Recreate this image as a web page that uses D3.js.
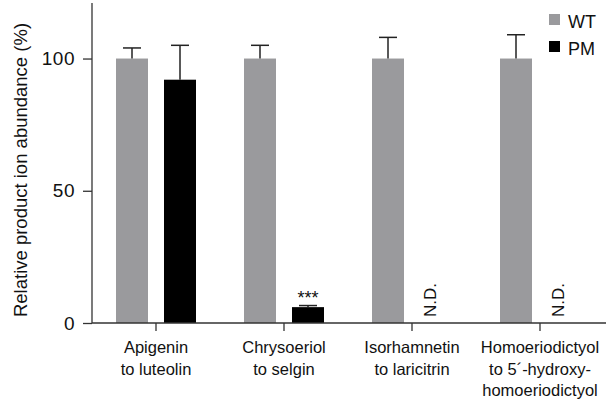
<!DOCTYPE html>
<html>
<head>
<meta charset="utf-8">
<script src="https://cdn.jsdelivr.net/npm/d3@7"></script>
<style>
  body { margin: 0; background: #fff; }
  text { font-family: "Liberation Sans", Arial, sans-serif; fill: #111; }
</style>
</head>
<body>
<div id="chart"></div>
<script>
const categories = [
    ['Apigenin', 'to luteolin'],
    ['Chrysoeriol', 'to selgin'],
    ['Isorhamnetin', 'to laricitrin'],
    ['Homoeriodictyol', 'to 5\u00b4-hydroxy-', 'homoeriodictyol']
];
const groups = ['WT', 'PM'];
const wtValues = [100, 100, 100, 100];
const wtErrors = [4, 5, 8, 9];
const pmValues = [92, 6, null, null];
const pmErrors = [13, 0.6, null, null];
const pmNotes = ['', '***', 'N.D.', 'N.D.'];
const yTicks = [0, 50, 100];

const colors = { WT: '#9a9a9d', PM: '#000000' };

const width = 613, height = 400;
const margin = { top: 3, right: 9, bottom: 77, left: 92 };
const innerW = width - margin.left - margin.right;
const innerH = height - margin.top - margin.bottom;

const svg = d3.select('#chart').append('svg')
    .attr('width', width)
    .attr('height', height);

const g = svg.append('g')
    .attr('transform', `translate(${margin.left},${margin.top})`);

const keys = categories.map(c => c.join(' '));

const x0 = d3.scaleBand()
    .domain(keys)
    .range([0, 512])
    .padding(0);

const x1 = d3.scaleBand()
    .domain(groups)
    .range([24, 104])
    .paddingInner(1 / 3)
    .paddingOuter(0);

const y = d3.scaleLinear()
    .domain([0, 121])
    .range([innerH, 0]);

const data = keys.map((k, i) => ({
    key: k,
    bars: [
        { group: 'WT', value: wtValues[i], err: wtErrors[i] },
        { group: 'PM', value: pmValues[i], err: pmErrors[i] }
    ],
    note: pmNotes[i]
}));

// bars
const cat = g.selectAll('.cat')
    .data(data)
    .enter()
    .append('g')
    .attr('class', 'cat')
    .attr('transform', d => `translate(${x0(d.key)},0)`);

const bar = cat.selectAll('.bar')
    .data(d => d.bars.filter(b => b.value != null))
    .enter();

bar.append('rect')
    .attr('x', d => x1(d.group))
    .attr('y', d => y(d.value))
    .attr('width', x1.bandwidth())
    .attr('height', d => innerH - y(d.value))
    .attr('fill', d => colors[d.group]);

// error bars (upper only)
const capW = 18;
bar.append('line')
    .attr('x1', d => x1(d.group) + x1.bandwidth() / 2)
    .attr('x2', d => x1(d.group) + x1.bandwidth() / 2)
    .attr('y1', d => y(d.value))
    .attr('y2', d => y(d.value + d.err))
    .attr('stroke', '#222')
    .attr('stroke-width', 1.5);

bar.append('line')
    .attr('x1', d => x1(d.group) + x1.bandwidth() / 2 - capW / 2)
    .attr('x2', d => x1(d.group) + x1.bandwidth() / 2 + capW / 2)
    .attr('y1', d => y(d.value + d.err))
    .attr('y2', d => y(d.value + d.err))
    .attr('stroke', '#222')
    .attr('stroke-width', 1.5);

// annotations
cat.filter(d => d.note === '***')
    .append('text')
    .attr('x', x1('PM') + x1.bandwidth() / 2)
    .attr('y', d => y(d.bars[1].value + d.bars[1].err) - 2)
    .attr('text-anchor', 'middle')
    .style('font-size', '18px')
    .text(d => d.note);

cat.filter(d => d.note === 'N.D.')
    .append('text')
    .attr('transform', `translate(${x1('PM') + x1.bandwidth() / 2},${innerH - 6}) rotate(-90)`)
    .attr('text-anchor', 'start')
    .style('font-size', '17px')
    .text(d => d.note);

// axes
const yAxis = d3.axisLeft(y)
    .tickValues(yTicks)
    .tickSize(9)
    .tickPadding(8);

const yG = g.append('g').call(yAxis);
yG.select('.domain').attr('d', `M0,${innerH}V0`);
yG.selectAll('text')
    .style('font-size', '19px')
    .style('letter-spacing', '0.5px');

const xAxis = d3.axisBottom(x0)
    .tickSize(8)
    .tickFormat('');

const xG = g.append('g')
    .attr('transform', `translate(0,${innerH})`)
    .call(xAxis);
xG.select('.domain').attr('d', `M0,0H${innerW + 2}`);

g.selectAll('.domain, .tick line')
    .attr('stroke', '#333')
    .attr('stroke-width', 1.3);

// category labels
xG.selectAll('.tick')
    .each(function(d, i) {
        const t = d3.select(this).append('text')
            .attr('text-anchor', 'middle')
            .attr('fill', '#111')
            .style('font-size', '16.5px');
        categories[i].forEach((line, j) => {
            t.append('tspan')
                .attr('x', 0)
                .attr('y', 30 + j * 21.5)
                .text(line);
        });
    });

// y label
svg.append('text')
    .attr('transform', `translate(27,170) rotate(-90)`)
    .attr('text-anchor', 'middle')
    .style('font-size', '18.5px')
    .text('Relative product ion abundance (%)');

// legend
const legend = svg.append('g')
    .attr('transform', 'translate(549,14)');

groups.forEach((k, i) => {
    const row = legend.append('g')
        .attr('transform', `translate(0,${i * 27})`);
    row.append('rect')
        .attr('width', 11)
        .attr('height', 11)
        .attr('fill', colors[k]);
    row.append('text')
        .attr('x', 19)
        .attr('y', 14)
        .style('font-size', '18px')
        .text(k);
});
</script>
</body>
</html>
